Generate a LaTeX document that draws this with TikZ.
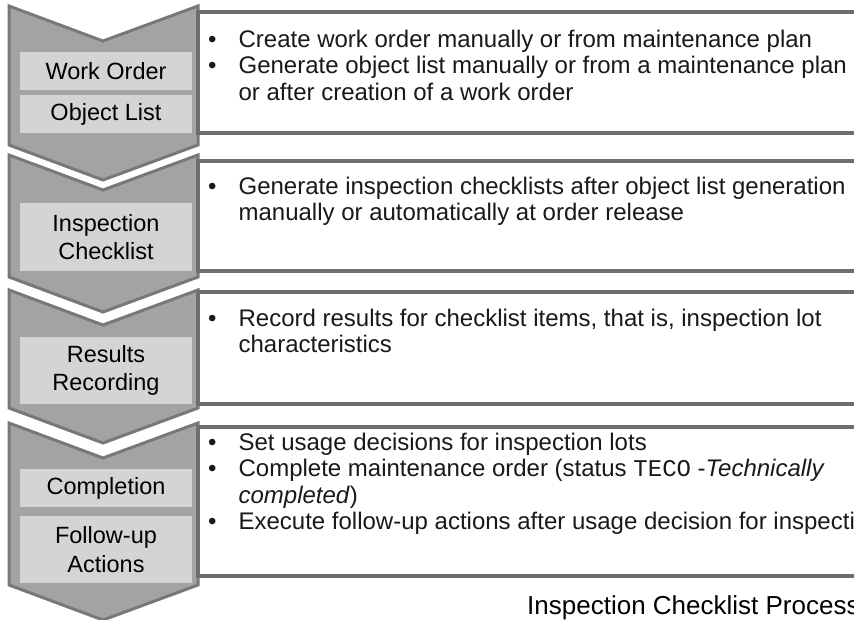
\documentclass[tikz,border=0pt]{standalone}
\usepackage{fontspec}
\setsansfont{Liberation Sans}
\setmonofont{Liberation Mono}
\definecolor{chevfill}{HTML}{A3A3A3}
\definecolor{chevline}{HTML}{787878}
\definecolor{lblfill}{HTML}{D4D4D4}
\definecolor{boxline}{HTML}{6E6E6E}

\begin{document}
\begin{tikzpicture}[x=1pt,y=-1pt,font=\sffamily\fontsize{23.5}{28.5}\selectfont,
  chev/.style={fill=chevfill,draw=chevline,line width=3pt},
  lbl/.style={fill=lblfill,minimum width=172pt,inner sep=0pt,align=center},
  txtbox/.style={draw=boxline,line width=3.2pt,fill=white},
  items/.style={anchor=base west,inner sep=0pt,text=black!90,font=\sffamily\fontsize{24}{26.5}\selectfont}]
\useasboundingbox (0,0) rectangle (854,619);
\clip (0,0) rectangle (854,619);
\foreach \t/\b in {6/145,155/277,290/408,423/585}
  \draw[chev] (9,\t) -- (103,\t+35) -- (198,\t) -- (198,\b) -- (103,\b+35) -- (9,\b) -- cycle;
\foreach \t/\b in {12/133,161/271,292/404,427/576}
  \draw[txtbox] (198,\t) rectangle (880,\b);
\node[lbl,minimum height=38pt] (wo) at (106,71) {Work Order};
\node[lbl,minimum height=38pt] (ol) at (106,114) {Object List};
\node[lbl,minimum height=68pt] (ic) at (106,237) {Inspection\\Checklist};
\node[lbl,minimum height=67pt] (rr) at (106,370.5) {Results\\Recording};
\node[lbl,minimum height=38pt] (co) at (106,488) {Completion};
\node[lbl,minimum height=67pt] (fa) at (106,549.5) {Follow-up\\Actions};
\node[items] (t1) at (208,47) {\begin{tabular}[t]{@{}l@{\hspace{22pt}}l@{}}
  \textbullet & Create work order manually or from maintenance plan\\
  \textbullet & Generate object list manually or from a maintenance plan\\
  & or after creation of a work order
  \end{tabular}};
\node[items] (t2) at (208,194) {\begin{tabular}[t]{@{}l@{\hspace{22pt}}l@{}}
  \textbullet & Generate inspection checklists after object list generation\\
  & manually or automatically at order release
  \end{tabular}};
\node[items] (t3) at (208,326) {\begin{tabular}[t]{@{}l@{\hspace{22pt}}l@{}}
  \textbullet & Record results for checklist items, that is, inspection lot\\
  & characteristics
  \end{tabular}};
\node[items] (t4) at (208,450) {\begin{tabular}[t]{@{}l@{\hspace{22pt}}l@{}}
  \textbullet & Set usage decisions for inspection lots\\
  \textbullet & Complete maintenance order (status \texttt{TECO} -\textit{Technically}\\
  & \textit{completed})\\
  \textbullet & Execute follow-up actions after usage decision for inspection lots
  \end{tabular}};
\node[anchor=base west,inner sep=0pt,font=\sffamily\fontsize{26}{30}\selectfont] (cap) at (527,614) {Inspection Checklist Process};
\end{tikzpicture}
\end{document}
